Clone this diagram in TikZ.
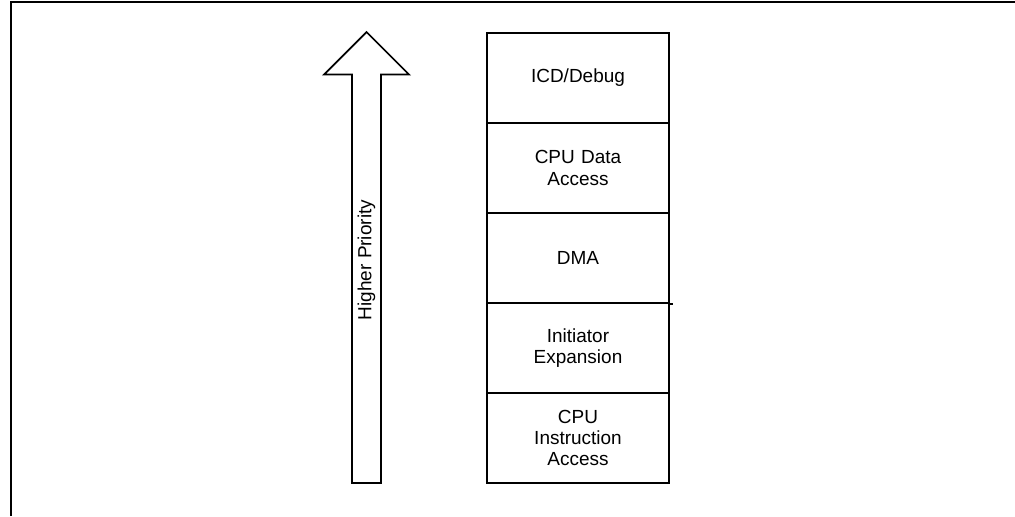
\documentclass[tikz,border=0pt]{standalone}
\usepackage{fontspec}
\setmainfont{Liberation Sans}
\usepackage{tikz}
\usetikzlibrary{arrows,shapes,positioning}
\usepackage{xcolor}
\definecolor{pline}{RGB}{0,0,0}
\tikzstyle{layer} = [rectangle, minimum width=3.64cm, minimum height=1.8cm, text width=3.2cm, align=center, draw=pline, line width=1.1pt, font=\fontsize{10.8}{12.2}\selectfont]
\tikzstyle{frame} = [line width=1.1pt, color=pline]
\tikzstyle{bigarrow} = [line width=1pt, color=pline, line join=miter]

\begin{document}
\begin{tikzpicture}[node distance=1.8cm]
\useasboundingbox (0,0) rectangle (20.3,-10.32);
\draw [frame] (0.22,-10.32) -- (0.22,-0.04) -- (20.3,-0.04);
% priority stack
\node (icd) [layer] at (11.56,-1.56) {ICD/Debug};
\node (cpudata) [layer, below of=icd] {CPU Data\\Access};
\node (dma) [layer, below of=cpudata] {DMA};
\node (initexp) [layer, below of=dma] {Initiator\\Expansion};
\node (cpuinstr) [layer, below of=initexp] {CPU\\Instruction\\Access};
\draw [frame] (dma.south east) -- ++(0.06,0);
% priority arrow
\draw [bigarrow] (7.04,-9.66) -- (7.04,-1.49) -- (6.48,-1.49) -- (7.33,-0.64) -- (8.18,-1.49) -- (7.62,-1.49) -- (7.62,-9.66) -- cycle;
\node (prio) [rotate=90, font=\fontsize{10.8}{12.2}\selectfont] at (7.33,-5.2) {Higher Priority};
\end{tikzpicture}
\end{document}
